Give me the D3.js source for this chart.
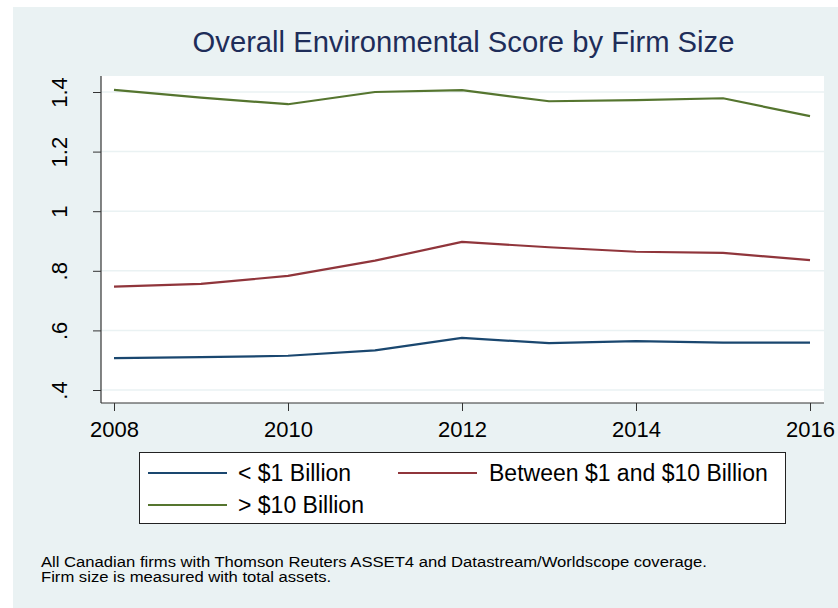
<!DOCTYPE html>
<html>
<head>
<meta charset="utf-8">
<script src="https://cdn.jsdelivr.net/npm/d3@7"></script>
<style>
  html, body { margin: 0; padding: 0; background: #ffffff; }
  svg { display: block; }
  text { font-family: "Liberation Sans", Arial, Helvetica, sans-serif; }
</style>
</head>
<body>
<svg id="chart" width="838" height="608"></svg>
<script>
// ---- data ----
const years = [2008, 2009, 2010, 2011, 2012, 2013, 2014, 2015, 2016];
const smallFirms = [0.507, 0.510, 0.515, 0.533, 0.575, 0.557, 0.564, 0.559, 0.559];
const midFirms   = [0.747, 0.756, 0.783, 0.834, 0.897, 0.879, 0.864, 0.860, 0.836];
const largeFirms = [1.407, 1.381, 1.359, 1.400, 1.406, 1.369, 1.373, 1.379, 1.319];
const seriesNames = ["< $1 Billion", "Between $1 and $10 Billion", "> $10 Billion"];
const seriesColors = ["#1a476f", "#90353b", "#55752f"];
const yTicks = [0.4, 0.6, 0.8, 1.0, 1.2, 1.4];
const yTickLabels = [".4", ".6", ".8", "1", "1.2", "1.4"];
const xTicks = [2008, 2010, 2012, 2014, 2016];
const titleText = "Overall Environmental Score by Firm Size";
const noteLines = [
  "All Canadian firms with Thomson Reuters ASSET4 and Datastream/Worldscope coverage.",
  "Firm size is measured with total assets."
];

// ---- layout ----
const svg = d3.select("#chart");
const plot = { left: 101, right: 824, top: 76, bottom: 403 };

svg.append("rect").attr("x", 13).attr("y", 7).attr("width", 838 - 13).attr("height", 608 - 7)
  .attr("fill", "#eaf2f3");

svg.append("rect").attr("x", plot.left).attr("y", plot.top)
  .attr("width", plot.right - plot.left).attr("height", plot.bottom - plot.top)
  .attr("fill", "#ffffff");

const x = d3.scaleLinear().domain([2008, 2016]).range([114, 810]);
const y = d3.scaleLinear().domain([0.4, 1.4]).range([390, 92]);

// gridlines
svg.append("g").selectAll("line").data(yTicks).join("line")
  .attr("x1", plot.left).attr("x2", plot.right)
  .attr("y1", d => y(d)).attr("y2", d => y(d))
  .attr("stroke", "#eaf2f3").attr("stroke-width", 1.5);

// lines
const series = [smallFirms, midFirms, largeFirms];
const lineGen = d3.line().x((d, i) => x(years[i])).y(d => y(d));
svg.append("g").selectAll("path").data(series).join("path")
  .attr("d", d => lineGen(d))
  .attr("fill", "none")
  .attr("stroke", (d, i) => seriesColors[i])
  .attr("stroke-width", 2.2)
  .attr("stroke-linejoin", "round");

// y axis
const yAxis = d3.axisLeft(y).tickValues(yTicks)
  .tickFormat((d, i) => yTickLabels[i]).tickSize(8).tickPadding(0);
const yg = svg.append("g").attr("transform", `translate(${plot.left},0)`).call(yAxis);
yg.select(".domain").remove();
yg.selectAll(".tick line").attr("stroke", "#333").attr("stroke-width", 1);
yg.selectAll(".tick text")
  .attr("x", 0).attr("dy", null)
  .attr("transform", "translate(-34,0) rotate(-90)")
  .attr("text-anchor", "middle")
  .attr("font-size", 22).attr("fill", "#000");
svg.append("line").attr("x1", plot.left).attr("x2", plot.left)
  .attr("y1", plot.top).attr("y2", plot.bottom).attr("stroke", "#333").attr("stroke-width", 1.2);

// x axis
const xAxis = d3.axisBottom(x).tickValues(xTicks).tickFormat(d3.format("d"))
  .tickSize(8).tickPadding(10);
const xg = svg.append("g").attr("transform", `translate(0,${plot.bottom})`).call(xAxis);
xg.select(".domain").remove();
xg.selectAll(".tick line").attr("stroke", "#333").attr("stroke-width", 1);
xg.selectAll(".tick text").attr("font-size", 22).attr("fill", "#000");
svg.append("line").attr("x1", plot.left).attr("x2", plot.right)
  .attr("y1", plot.bottom).attr("y2", plot.bottom).attr("stroke", "#333").attr("stroke-width", 1.2);

// title
svg.append("text").attr("x", (plot.left + plot.right) / 2 + 1).attr("y", 52)
  .attr("text-anchor", "middle").attr("font-size", 29.2).attr("fill", "#1e2d59")
  .text(titleText);

// legend
const lg = svg.append("g");
lg.append("rect").attr("x", 139.5).attr("y", 452.5).attr("width", 646).attr("height", 71)
  .attr("fill", "#ffffff").attr("stroke", "#222").attr("stroke-width", 1);
const legendPos = [
  { lx: 148, ty: 473, tx: 238 },
  { lx: 398, ty: 473, tx: 489 },
  { lx: 148, ty: 505, tx: 238 }
];
seriesNames.forEach((name, i) => {
  const p = legendPos[i];
  lg.append("line").attr("x1", p.lx).attr("x2", p.lx + 79)
    .attr("y1", p.ty).attr("y2", p.ty)
    .attr("stroke", seriesColors[i]).attr("stroke-width", 2.2);
  lg.append("text").attr("x", p.tx).attr("y", p.ty + 8)
    .attr("font-size", 23).attr("fill", "#000").text(name);
});

// note
svg.append("g").attr("transform", "translate(41,0) scale(1.11,1)")
  .selectAll("text").data(noteLines).join("text")
  .attr("x", 0).attr("y", (d, i) => 566.7 + i * 15.6)
  .attr("font-size", 15).attr("fill", "#000")
  .text(d => d);
</script>
</body>
</html>
